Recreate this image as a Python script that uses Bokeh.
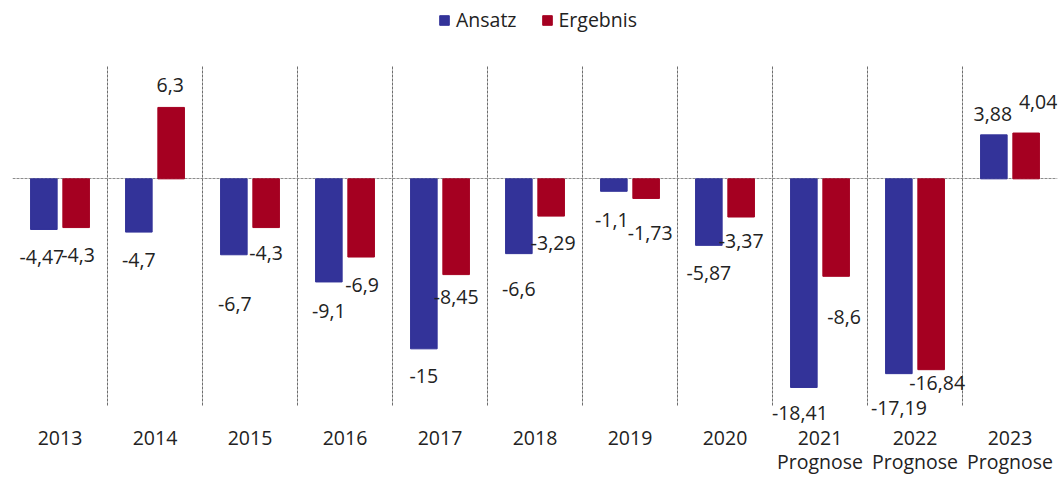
from bokeh.plotting import figure
from bokeh.models import (ColumnDataSource, Range1d, FixedTicker, Legend, LegendItem)
from bokeh.transform import dodge
from bokeh.core.properties import value
from bokeh.embed import file_html
from bokeh.resources import INLINE

# ---- data ----
years = ["2013", "2014", "2015", "2016", "2017", "2018", "2019", "2020", "2021", "2022", "2023"]
notes = ["", "", "", "", "", "", "", "", "Prognose", "Prognose", "Prognose"]
ansatz = [-4.47, -4.7, -6.7, -9.1, -15, -6.6, -1.1, -5.87, -18.41, -17.19, 3.88]
ergebnis = [-4.3, 6.3, -4.3, -6.9, -8.45, -3.29, -1.73, -3.37, -8.6, -16.84, 4.04]

# value-axis extent of the plot area
Y_MIN, Y_MAX = -20, 10

# label placement offsets (screen px) relative to bar ends
ansatz_dx = [-2, 0, 1, 0, 0, 0, -2, 0, -4, 0, -1]
ansatz_dy = [28, 28, 49, 29, 27, 35, 29, 28, 26, 34, -21]
ergebnis_dx = [2, -1, 0, 1, 0, 2, 4, 0, 8, 6, 12]
ergebnis_dy = [27, -22, 25, 28, 22, 27, 35, 24, 41, 13, -31]

BLUE = "#333399"
RED = "#A50021"
FONT = "Open Sans"
FS = "19.5px"
TXT = "#222222"
GRID = "#6e6e6e"

# layout (pixels)
W_TOTAL, H_TOTAL = 1058, 477
LEFT, RIGHT = 12, 1
AREA_TOP, AREA_BOTTOM = 65, 405          # plot area rows on the canvas
px_per_unit = (AREA_BOTTOM - AREA_TOP) / (Y_MAX - Y_MIN)
y_hi = Y_MAX + AREA_TOP / px_per_unit
y_lo = Y_MIN - (H_TOTAL - AREA_BOTTOM) / px_per_unit


def fmt(v):
    return f"{v:g}".replace(".", ",")


n = len(years)
src = ColumnDataSource(dict(
    x=list(range(n)),
    a=ansatz, e=ergebnis,
    a_lbl=[fmt(v) for v in ansatz], e_lbl=[fmt(v) for v in ergebnis],
    a_dx=ansatz_dx, a_dy=ansatz_dy, e_dx=ergebnis_dx, e_dy=ergebnis_dy,
    year=years, note=notes, base=[Y_MIN] * n,
))

p = figure(frame_width=W_TOTAL - LEFT - RIGHT, frame_height=H_TOTAL,
           output_backend="svg", toolbar_location=None,
           x_range=Range1d(-0.5, n - 0.5), y_range=Range1d(y_lo, y_hi),
           min_border_left=LEFT, min_border_right=RIGHT, min_border_top=0, min_border_bottom=0)
p.outline_line_color = None
p.background_fill_color = "white"
p.border_fill_color = "white"
p.xaxis.visible = False
p.yaxis.visible = False

# grids: category separators limited to the plot area, dashed zero line
p.xgrid.ticker = FixedTicker(ticks=[i - 0.5 for i in range(n)])
p.xgrid.grid_line_color = GRID
p.xgrid.grid_line_dash = "3 1"
try:
    p.xgrid.cross_bounds = (Y_MIN, Y_MAX)
except AttributeError:
    p.xgrid.visible = False
    p.segment(x0=[i - 0.5 for i in range(n)], x1=[i - 0.5 for i in range(n)],
              y0=[Y_MIN] * n, y1=[Y_MAX] * n, line_color=GRID, line_dash="3 1")
p.ygrid.ticker = FixedTicker(ticks=[0])
p.ygrid.grid_line_color = "#8c8c8c"
p.ygrid.grid_line_dash = "3 1"

OFF = 0.17
BW = 0.28
rb = p.vbar(x=dodge("x", -OFF, range=p.x_range), top="a", bottom=0, width=BW, source=src,
            fill_color=BLUE, line_color=BLUE)
rr = p.vbar(x=dodge("x", OFF, range=p.x_range), top="e", bottom=0, width=BW, source=src,
            fill_color=RED, line_color=RED)

common = dict(text_align="center", text_baseline="middle", text_font=value(FONT),
              text_font_size=value(FS), text_color=TXT, source=src)
p.text(x=dodge("x", -OFF, range=p.x_range), y="a", text="a_lbl",
       x_offset="a_dx", y_offset="a_dy", **common)
p.text(x=dodge("x", OFF, range=p.x_range), y="e", text="e_lbl",
       x_offset="e_dx", y_offset="e_dy", **common)

# category labels below the plot area
p.text(x="x", y="base", text="year", y_offset=32, **common)
p.text(x="x", y="base", text="note", y_offset=56, **common)

legend = Legend(items=[LegendItem(label="Ansatz", renderers=[rb]),
                       LegendItem(label="Ergebnis", renderers=[rr])],
                orientation="horizontal", location=(426, 444),
                glyph_width=12, glyph_height=12, label_standoff=6, spacing=24,
                padding=0, margin=0, border_line_color=None, background_fill_alpha=0,
                label_text_font=FONT, label_text_font_size=FS, label_text_color=TXT)
p.add_layout(legend, "center")

open("out.html", "w").write(file_html(p, INLINE))
